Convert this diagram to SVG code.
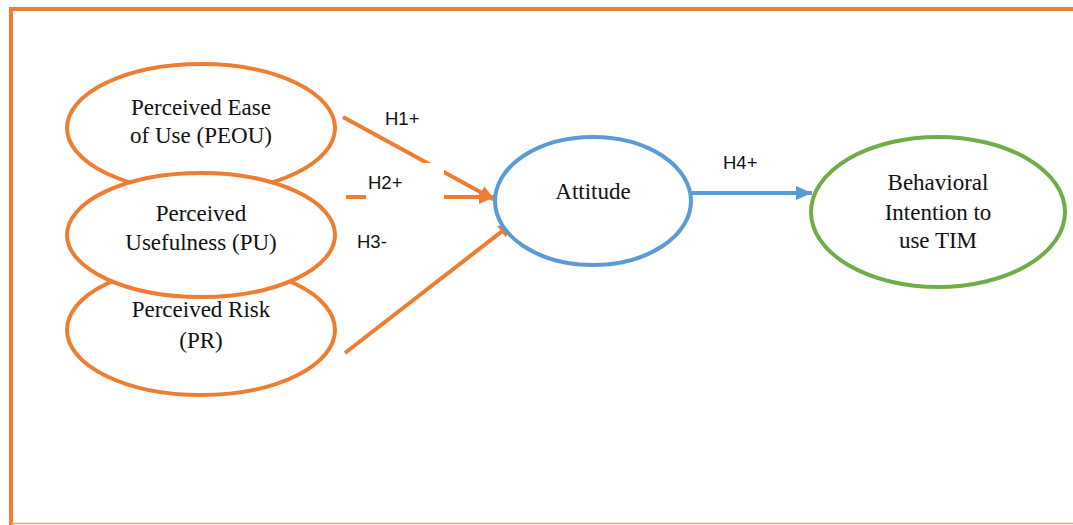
<svg xmlns="http://www.w3.org/2000/svg" width="1073" height="525" viewBox="0 0 1073 525">
<style>
.frame{fill:none;stroke:#ED7D31;stroke-width:4}
.org{fill:#fff;stroke:#ED7D31;stroke-width:4}
.blue{fill:#fff;stroke:#5B9BD5;stroke-width:4}
.green{fill:#fff;stroke:#70AD47;stroke-width:4}
.t{font-family:"Liberation Serif","Times New Roman",serif;font-size:23px;fill:#111;text-anchor:middle}
.h{font-family:"Liberation Sans",Arial,sans-serif;font-size:18.5px;fill:#111}
.co{stroke:#ED7D31;stroke-width:4;fill:none}
.cb{stroke:#5B9BD5;stroke-width:4;fill:none}
.lbl{fill:#fff;stroke:none}
</style>
<defs>
<marker id="ao" markerUnits="userSpaceOnUse" markerWidth="18" markerHeight="16" refX="16" refY="7" orient="auto"><path d="M0,0 L16,7 L0,14 z" fill="#ED7D31"/></marker>
<marker id="ab" markerUnits="userSpaceOnUse" markerWidth="18" markerHeight="16" refX="16" refY="7" orient="auto"><path d="M0,0 L16,7 L0,14 z" fill="#5B9BD5"/></marker>
</defs>
<rect width="1073" height="525" fill="#fff"/>
<g id="frame">
<path class="frame" d="M11,525 V9 H1073"/>
<line x1="11" y1="523.5" x2="1073" y2="523.5" stroke="#F4A460" stroke-width="1.5"/>
</g>
<g id="connectors">
<line class="co" x1="343" y1="117" x2="495" y2="200" marker-end="url(#ao)"/>
<line class="co" x1="346" y1="197" x2="495" y2="197" marker-end="url(#ao)"/>
<line class="co" x1="345" y1="353" x2="514" y2="222" marker-end="url(#ao)"/>
<line class="cb" x1="692" y1="193" x2="812" y2="193" marker-end="url(#ab)"/>
</g>
<g id="node-peou">
<ellipse class="org" cx="201" cy="128" rx="134" ry="64"/>
<text class="t" x="201" y="115">Perceived Ease</text>
<text class="t" x="201" y="143">of Use (PEOU)</text>
</g>
<g id="node-pr">
<ellipse class="org" cx="201" cy="330" rx="134" ry="65"/>
<text class="t" x="201" y="317">Perceived Risk</text>
<text class="t" x="201" y="348">(PR)</text>
</g>
<g id="node-pu">
<ellipse class="org" cx="201" cy="235" rx="134" ry="62"/>
<text class="t" x="201" y="221">Perceived</text>
<text class="t" x="201" y="250">Usefulness (PU)</text>
</g>
<g id="node-attitude">
<ellipse class="blue" cx="593" cy="201" rx="98" ry="64"/>
<text class="t" x="593" y="199">Attitude</text>
</g>
<g id="node-bi">
<ellipse class="green" cx="938" cy="212" rx="127" ry="75"/>
<text class="t" x="938" y="190">Behavioral</text>
<text class="t" x="938" y="220">Intention to</text>
<text class="t" x="938" y="248">use TIM</text>
</g>
<g id="label-h1">
<text class="h" x="385" y="125">H1+</text>
</g>
<g id="label-h2">
<rect class="lbl" x="366" y="163" width="78" height="42"/>
<text class="h" x="368" y="189">H2+</text>
</g>
<g id="label-h3">
<text class="h" x="357" y="248">H3-</text>
</g>
<g id="label-h4">
<text class="h" x="723" y="169">H4+</text>
</g>
</svg>
